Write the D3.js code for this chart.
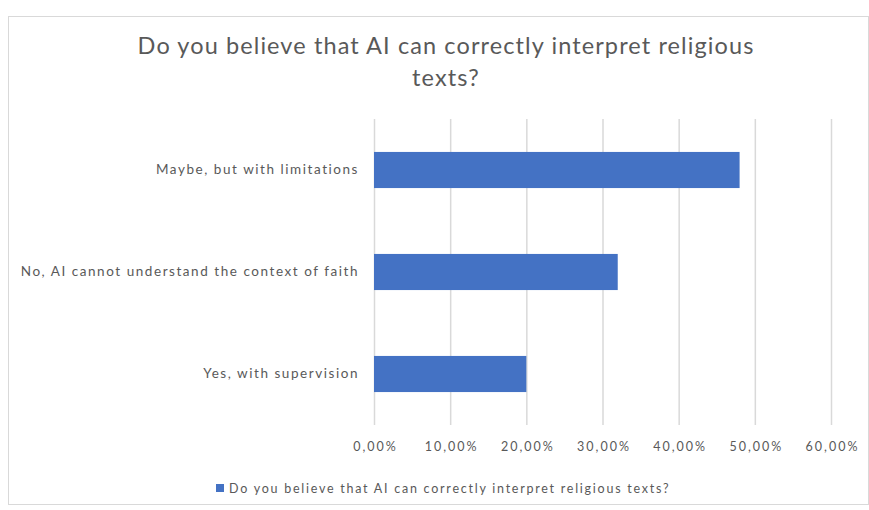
<!DOCTYPE html>
<html>
<head>
<meta charset="utf-8">
<script src="https://cdn.jsdelivr.net/npm/d3@7"></script>
<style>
  html, body { margin: 0; padding: 0; background: #fff; }
  svg { display: block; font-family: Lato, "Open Sans", sans-serif; }
</style>
</head>
<body>
<svg id="chart" width="869" height="510"></svg>
<script>
// Survey answers, listed top to bottom as drawn
const categories = [
  "Maybe, but with limitations",
  "No, AI cannot understand the context of faith",
  "Yes, with supervision"
];
const shares = [0.48, 0.32, 0.20];
const tickValues = [0, 0.1, 0.2, 0.3, 0.4, 0.5, 0.6];
const titleLines = ["Do you believe that AI can correctly interpret religious", "texts?"];
const seriesName = "Do you believe that AI can correctly interpret religious texts?";

const svg = d3.select("#chart");
const W = 869, H = 510;
const plot = { left: 374, right: 831, top: 119, bottom: 425 };
const textColor = "#595959";
const barColor = "#4472C4";

// chart frame
svg.append("rect")
  .attr("x", 8.5).attr("y", 16.5)
  .attr("width", W - 9).attr("height", 488)
  .attr("fill", "#fff").attr("stroke", "#d9d9d9");

const x = d3.scaleLinear().domain([0, 0.6]).range([plot.left, plot.right]);
const y = d3.scaleBand().domain(categories).range([plot.top, plot.bottom])
  .paddingInner(0.646).paddingOuter(0.323);

// vertical gridlines
svg.append("g").selectAll("line").data(tickValues).join("line")
  .attr("x1", d => x(d) + 0.5).attr("x2", d => x(d) + 0.5)
  .attr("y1", plot.top).attr("y2", plot.bottom)
  .attr("stroke", "#d9d9d9").attr("stroke-width", 1.5);

// bars
svg.append("g").selectAll("rect").data(categories).join("rect")
  .attr("x", x(0))
  .attr("y", d => y(d))
  .attr("width", (d, i) => x(shares[i]) - x(0))
  .attr("height", y.bandwidth())
  .attr("fill", barColor);

// x axis tick labels
const fmt = v => d3.format(".2f")(v * 100).replace(".", ",") + "%";
const xAxis = d3.axisBottom(x).tickValues(tickValues).tickFormat(fmt).tickSize(0).tickPadding(17);
const gx = svg.append("g").attr("transform", `translate(0,${plot.bottom})`).call(xAxis);
gx.select(".domain").remove();
gx.selectAll("text").attr("fill", textColor).attr("font-size", 12.5)
  .attr("letter-spacing", 2).attr("dx", 1)
  .attr("font-family", "Lato, sans-serif");

// y axis category labels
const yAxis = d3.axisLeft(y).tickSize(0).tickPadding(15);
const gy = svg.append("g").attr("transform", `translate(${plot.left},0)`).call(yAxis);
gy.select(".domain").remove();
gy.selectAll("text").attr("fill", textColor).attr("font-size", 13.5)
  .attr("letter-spacing", 1.55)
  .attr("font-family", "Lato, sans-serif");

// title
svg.append("g").selectAll("text").data(titleLines).join("text")
  .attr("x", 446).attr("y", (d, i) => 54 + i * 32)
  .attr("text-anchor", "middle")
  .attr("font-size", 23.5).attr("fill", textColor)
  .attr("letter-spacing", 1.1)
  .text(d => d);

// legend
const legend = svg.append("g");
legend.append("rect").attr("x", 216).attr("y", 484).attr("width", 8).attr("height", 8).attr("fill", barColor);
legend.append("text").attr("x", 229).attr("y", 492.5)
  .attr("font-size", 12.5).attr("fill", textColor)
  .attr("letter-spacing", 1.75).text(seriesName);
</script>
</body>
</html>
